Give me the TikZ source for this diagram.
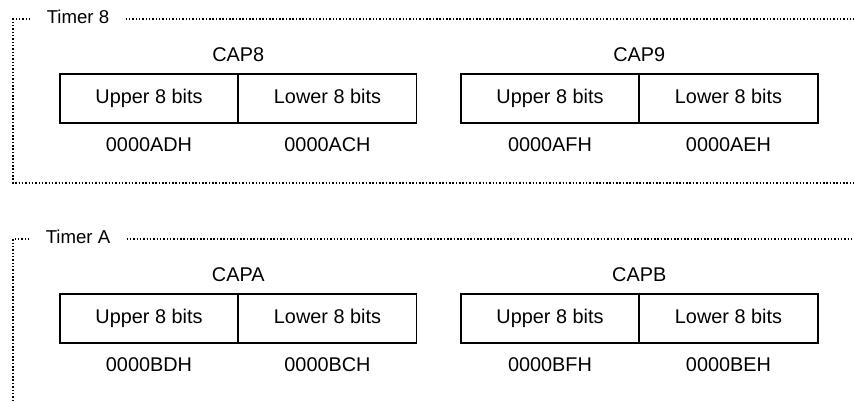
\documentclass[tikz,border=0pt]{standalone}
\usepackage{fontspec}
\setmainfont{Liberation Sans}
\usetikzlibrary{positioning}
\tikzset{
	regcell/.style={draw,line width=0.9pt,outer sep=0pt,inner sep=0pt,minimum width=3.57cm,minimum height=0.98cm,text height=0.72em,text depth=0.2em,font=\fontsize{11.3}{13}\selectfont},
	regname/.style={inner sep=0pt,font=\fontsize{11.3}{13}\selectfont},
	regaddr/.style={inner sep=0pt,font=\fontsize{11.3}{13}\selectfont},
	timername/.style={inner xsep=0.32cm,inner ysep=0pt,font=\fontsize{10.6}{12}\selectfont},
	timerframe/.style={line width=0.85pt,dash pattern=on 0.85pt off 1.05pt}
}
\begin{document}
\begin{tikzpicture}[x=0.02cm,y=-0.02cm]
	\useasboundingbox (0,0) rectangle (854,402);
	%Timer 8
	\begin{scope}[shift={(0,0)}]
		
		% khung
		\node[timername] (t8) at (78,16.5) {Timer 8};
		\coordinate (a8) at (13,19);
		\coordinate (b8) at (854,19);
		\coordinate (c8) at (13,183);
		\coordinate (d8) at (854,183);
		\draw[timerframe] (t8.west |- a8) -- (a8) -- (c8) -- (d8);
		\draw[timerframe] (t8.east |- a8) -- (b8);
		
		% CAP8
		\node[regcell] (up8) at (149,98.5) {Upper 8 bits};
		\node[regcell,right=0pt of up8] (lo8) {Lower 8 bits};
		\node[regname,above=0.24cm of up8.north east] (cap8) {CAP8};
		\node[regaddr,below=0.28cm of up8] (adup8) {0000ADH};
		\node[regaddr,below=0.28cm of lo8] (adlo8) {0000ACH};
		
		% CAP9
		\node[regcell] (up9) at (550,98.5) {Upper 8 bits};
		\node[regcell,right=0pt of up9] (lo9) {Lower 8 bits};
		\node[regname,above=0.24cm of up9.north east] (cap9) {CAP9};
		\node[regaddr,below=0.28cm of up9] (adup9) {0000AFH};
		\node[regaddr,below=0.28cm of lo9] (adlo9) {0000AEH};
	\end{scope}
	%----------------------
	%Timer A
	\begin{scope}[shift={(0,220)}]
		
		% khung
		\node[timername] (tA) at (78,16.5) {Timer A};
		\coordinate (aA) at (13,19);
		\coordinate (bA) at (854,19);
		\coordinate (cA) at (13,190);
		\draw[timerframe] (tA.west |- aA) -- (aA) -- (cA);
		\draw[timerframe] (tA.east |- aA) -- (bA);
		
		% CAPA
		\node[regcell] (upA) at (149,98.5) {Upper 8 bits};
		\node[regcell,right=0pt of upA] (loA) {Lower 8 bits};
		\node[regname,above=0.24cm of upA.north east] (capA) {CAPA};
		\node[regaddr,below=0.28cm of upA] (adupA) {0000BDH};
		\node[regaddr,below=0.28cm of loA] (adloA) {0000BCH};
		
		% CAPB
		\node[regcell] (upB) at (550,98.5) {Upper 8 bits};
		\node[regcell,right=0pt of upB] (loB) {Lower 8 bits};
		\node[regname,above=0.24cm of upB.north east] (capB) {CAPB};
		\node[regaddr,below=0.28cm of upB] (adupB) {0000BFH};
		\node[regaddr,below=0.28cm of loB] (adloB) {0000BEH};
	\end{scope}
\end{tikzpicture}
\end{document}
